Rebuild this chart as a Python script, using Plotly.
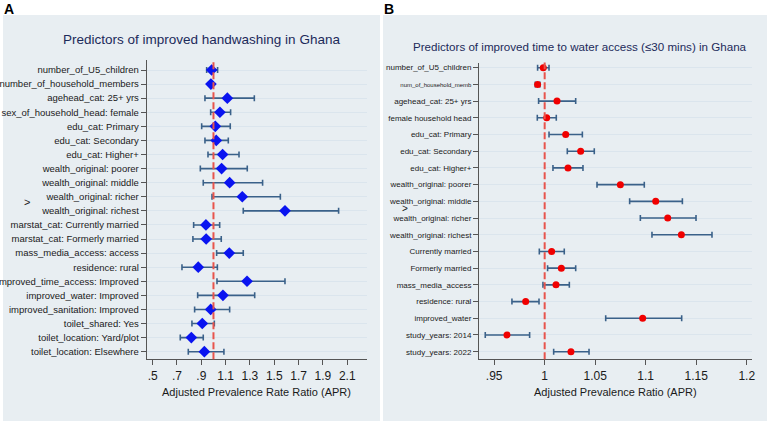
import plotly.graph_objects as go

W, H = 767, 421

# ---------------- Panel A data ----------------
labels_a = [
    "number_of_U5_children", "number_of_household_members", "agehead_cat: 25+ yrs",
    "sex_of_household_head: female", "edu_cat: Primary", "edu_cat: Secondary",
    "edu_cat: Higher+", "wealth_original: poorer", "wealth_original: middle",
    "wealth_original: richer", "wealth_original: richest", "marstat_cat: Currently married",
    "marstat_cat: Formerly married", "mass_media_access: access", "residence: rural",
    "improved_time_access: Improved", "improved_water: Improved",
    "improved_sanitation: Improved", "toilet_shared: Yes", "toilet_location: Yard/plot",
    "toilet_location: Elsewhere",
]
apr_a = [0.985, 0.979, 1.114, 1.053, 1.015, 1.023, 1.075, 1.067, 1.133, 1.237, 1.588,
         0.938, 0.940, 1.130, 0.875, 1.276, 1.078, 0.977, 0.908, 0.818, 0.925]
lo_a = [0.944, 0.968, 0.930, 0.977, 0.903, 0.930, 0.955, 0.892, 0.916, 0.988, 1.245,
        0.837, 0.831, 1.026, 0.741, 1.029, 0.870, 0.845, 0.823, 0.727, 0.793]
hi_a = [1.034, 0.993, 1.336, 1.141, 1.138, 1.122, 1.210, 1.278, 1.404, 1.550, 2.029,
        1.051, 1.064, 1.245, 1.032, 1.588, 1.339, 1.133, 1.007, 0.916, 1.086]
ticks_a = [0.5, 0.7, 0.9, 1.1, 1.3, 1.5, 1.7, 1.9, 2.1]
ticktext_a = [".5", ".7", ".9", "1.1", "1.3", "1.5", "1.7", "1.9", "2.1"]

# ---------------- Panel B data ----------------
labels_b = [
    "number_of_U5_children", "num_of_household_memb", "agehead_cat: 25+ yrs",
    "female household head", "edu_cat: Primary", "edu_cat: Secondary", "edu_cat: Higher+",
    "wealth_original: poorer", "wealth_original: middle", "wealth_original: richer",
    "wealth_original: richest", "Currently married", "Formerly married",
    "mass_media_access", "residence: rural", "improved_water", "study_years: 2014",
    "study_years: 2022",
]
apr_b = [0.9986, 0.9930, 1.0122, 1.0020, 1.0208, 1.0356, 1.0231, 1.0749, 1.1099, 1.1218,
         1.1353, 1.0069, 1.0165, 1.0112, 0.9812, 1.0970, 0.9627, 1.0260]
lo_b = [0.9930, 0.9907, 0.9940, 0.9927, 1.0043, 1.0224, 1.0082, 1.0518, 1.0841, 1.0947,
        1.1062, 0.9947, 1.0029, 0.9983, 0.9676, 1.0604, 0.9412, 1.0089]
hi_b = [1.0043, 0.9953, 1.0307, 1.0115, 1.0373, 1.0491, 1.0379, 1.0986, 1.1363, 1.1498,
        1.1656, 1.0194, 1.0307, 1.0244, 0.9944, 1.1356, 0.9851, 1.0439]
ticks_b = [0.95, 1.0, 1.05, 1.1, 1.15, 1.2]
ticktext_b = [".95", "1", "1.05", "1.1", "1.15", "1.2"]

FONT = "Liberation Sans, Arial, sans-serif"
BAR = "#3a6189"
GRID = "#dbe5ed"
PANEL = "#e8eef2"
AXC = "#555555"
TXT = "#1a1a1a"


def px_x(x):
    return x / W


def px_y(y):
    return 1 - y / H


fig = go.Figure()

ya = list(range(len(labels_a)))
yb = list(range(len(labels_b)))

fig.add_trace(go.Scatter(
    x=apr_a, y=ya, mode="markers", xaxis="x", yaxis="y",
    marker=dict(symbol="diamond", size=9, color="#0a14f0"),
    error_x=dict(type="data", symmetric=False,
                 array=[h - p for h, p in zip(hi_a, apr_a)],
                 arrayminus=[p - l for p, l in zip(apr_a, lo_a)],
                 color=BAR, thickness=1.6, width=3),
    showlegend=False, hoverinfo="skip"))

fig.add_trace(go.Scatter(
    x=apr_b, y=yb, mode="markers", xaxis="x2", yaxis="y2",
    marker=dict(symbol="circle", size=7, color="#f00000"),
    error_x=dict(type="data", symmetric=False,
                 array=[h - p for h, p in zip(hi_b, apr_b)],
                 arrayminus=[p - l for p, l in zip(apr_b, lo_b)],
                 color=BAR, thickness=1.6, width=3),
    showlegend=False, hoverinfo="skip"))

ticktext_yb = [
    ('<span style="font-size:6px">%s</span>' % t) if t == "num_of_household_memb" else t
    for t in labels_b
]

# panel geometry (pixels)
A_x0, A_x1, A_y0, A_y1 = 146.7, 366.7, 60.0, 359.3
B_x0, B_x1, B_y0, B_y1 = 479.0, 752.3, 62.5, 359.3

common = dict(ticks="outside", tickcolor=AXC, showline=True, linecolor=AXC, linewidth=1,
              zeroline=False, automargin=False)

fig.update_layout(
    template="none",
    width=W, height=H, margin=dict(l=0, r=0, t=0, b=0, pad=0),
    paper_bgcolor="white", plot_bgcolor="white",
    font=dict(family=FONT, color=TXT),
    xaxis=dict(domain=[px_x(A_x0), px_x(A_x1)], range=[0.451, 2.26],
               tickvals=ticks_a, ticktext=ticktext_a, ticklen=5, showgrid=False,
               anchor="y", tickfont=dict(size=12, family=FONT, color=TXT), **common),
    yaxis=dict(domain=[px_y(A_y1), px_y(A_y0)], range=[20.54, -0.71],
               tickvals=ya, ticktext=labels_a, ticklen=5,
               showgrid=True, gridcolor=GRID, gridwidth=1,
               anchor="x", tickfont=dict(size=9.5, family=FONT, color=TXT), **common),
    xaxis2=dict(domain=[px_x(B_x0), px_x(B_x1)], range=[0.935, 1.2055],
                tickvals=ticks_b, ticktext=ticktext_b, ticklen=5, showgrid=False,
                anchor="y2", tickfont=dict(size=12, family=FONT, color=TXT), **common),
    yaxis2=dict(domain=[px_y(B_y1), px_y(B_y0)], range=[17.455, -0.31],
                tickvals=yb, ticktext=ticktext_yb, ticklen=5,
                showgrid=True, gridcolor=GRID, gridwidth=1,
                anchor="x2", tickfont=dict(size=8, family=FONT, color=TXT), **common),
)

shapes = [
    dict(type="rect", xref="paper", yref="paper", x0=px_x(3), x1=px_x(380),
         y0=0, y1=px_y(15), fillcolor=PANEL, line=dict(width=0), layer="below"),
    dict(type="rect", xref="paper", yref="paper", x0=px_x(383), x1=1,
         y0=0, y1=px_y(15), fillcolor=PANEL, line=dict(width=0), layer="below"),
    dict(type="line", xref="x", yref="y domain", x0=1, x1=1, y0=0, y1=1,
         line=dict(color="#e8544c", width=2, dash="7px,3px")),
    dict(type="line", xref="x2", yref="y2 domain", x0=1, x1=1, y0=0, y1=1,
         line=dict(color="#e8544c", width=2, dash="7px,3px")),
]
fig.update_layout(shapes=shapes)

ann = [
    dict(text="Predictors of improved handwashing in Ghana", x=px_x(201.7), y=px_y(40),
         font=dict(size=13.5, color="#1c2a5a", family=FONT)),
    dict(text="Predictors of improved time to water access (≤30 mins) in Ghana",
         x=px_x(579.7), y=px_y(46), font=dict(size=11.6, color="#1c2a5a", family=FONT)),
    dict(text="Adjusted Prevalence Rate Ratio (APR)", x=px_x(256.7), y=px_y(392),
         font=dict(size=11, color=TXT, family=FONT)),
    dict(text="Adjusted Prevalence Ratio (APR)", x=px_x(615.7), y=px_y(392),
         font=dict(size=11, color=TXT, family=FONT)),
    dict(text="<b>A</b>", x=px_x(8.5), y=px_y(9), font=dict(size=14, color="black",
                                                             family=FONT)),
    dict(text="<b>B</b>", x=px_x(389), y=px_y(9), font=dict(size=14, color="black",
                                                             family=FONT)),
    dict(text=">", x=px_x(27), y=px_y(202), font=dict(size=11, color=TXT, family=FONT)),
    dict(text=">", x=px_x(404.7), y=px_y(208), font=dict(size=10, color=TXT, family=FONT)),
]
for a in ann:
    a.update(xref="paper", yref="paper", xanchor="center", yanchor="middle", showarrow=False)
fig.update_layout(annotations=ann)

fig.write_html("out.html")
